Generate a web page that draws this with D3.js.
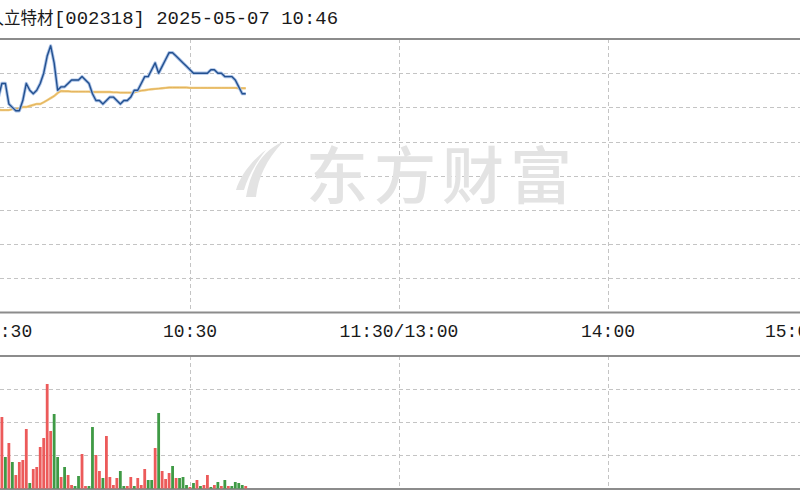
<!DOCTYPE html>
<html><head><meta charset="utf-8">
<script src="https://cdn.jsdelivr.net/npm/d3@7"></script>
<style>html,body{margin:0;padding:0;background:#fff;}svg{display:block;}</style>
</head><body>
<svg id="c" width="800" height="500"></svg>
<script>
// ---- data ----
const stockName = "久立特材";
const stockInfo = "[002318] 2025-05-07 10:46";
const watermark = "东方财富";
const tickMinutes = [0, 60, 120, 180, 240];
const tickLabels = ["9:30", "10:30", "11:30/13:00", "14:00", "15:00"];
const prevClose = 22.35;
const priceRange = [21.95, 22.75];
const volumeMax = 8000;
const prices = [22.54,22.55,22.53,22.56,22.55,22.58,22.62,22.62,22.56,22.55,22.54,22.54,22.57,22.62,22.60,22.59,
  22.60,22.62,22.65,22.70,22.73,22.68,22.60,22.61,22.61,22.62,22.63,22.63,22.63,22.64,22.63,22.62,22.59,22.57,
  22.57,22.56,22.57,22.58,22.58,22.57,22.56,22.57,22.57,22.58,22.60,22.60,22.62,22.64,22.64,22.66,22.68,22.65,
  22.67,22.69,22.71,22.71,22.70,22.69,22.68,22.67,22.66,22.65,22.65,22.65,22.65,22.65,22.66,22.66,22.65,22.65,
  22.64,22.64,22.64,22.63,22.61,22.59,22.59];
const avgPrices = [22.542,22.543,22.542,22.543,22.543,22.543,22.542,22.542,22.542,22.545,22.545,22.548,22.551,
  22.551,22.554,22.557,22.560,22.560,22.565,22.571,22.577,22.583,22.592,22.598,22.597,22.597,22.596,22.596,
  22.596,22.596,22.596,22.596,22.595,22.595,22.595,22.595,22.595,22.595,22.594,22.594,22.593,22.593,22.593,
  22.593,22.594,22.597,22.599,22.600,22.602,22.603,22.604,22.605,22.606,22.607,22.608,22.608,22.608,22.608,
  22.608,22.608,22.607,22.607,22.607,22.607,22.607,22.607,22.607,22.607,22.607,22.607,22.607,22.607,22.607,
  22.607,22.606,22.606,22.606];
const volumes = [3000,1500,1200,1800,1000,3230,4317,1902,2747,1600,815,1600,1721,3593,332,1177,1298,2506,3049,
  6310,3472,4498,1902,694,1298,815,211,150,755,2083,150,150,3713,2023,1057,634,3170,694,211,634,1057,150,150,
  694,150,634,211,1177,513,513,2445,4559,1057,574,936,1359,634,634,694,211,91,332,513,150,211,815,91,211,392,
  150,513,150,150,392,332,211,150];
const directions = ["u","u","d","u","d","u","u","d","u","d","u","u","u","u","d","u","u","u","u","u","u","d",
  "d","u","d","u","u","d","d","u","u","d","d","u","u","d","u","u","u","u","d","d","u","u","d","u","u","u","d",
  "d","u","d","u","u","u","d","u","d","d","d","u","d","u","d","u","u","d","u","d","u","d","u","d","d","d","d","u"];

// ---- layout ----
const svg = d3.select("#c");
const x = d3.scaleLinear().domain([0, 240]).range([-19, 817]);
const pTop = 39, pBot = 312.5, vTop = 356, vBot = 489;
const y = d3.scaleLinear().domain(priceRange).range([pBot, pTop]);
const yv = d3.scaleLinear().domain([0, volumeMax]).range([vBot - 0.5, vTop]);
const gridColor = "#c4c4c4";

// horizontal grid (price)
const pStep = (priceRange[1] - priceRange[0]) / 8;
const pGrid = d3.range(1, 8).map(k => priceRange[0] + k * pStep);
svg.append("g").selectAll("line").data(pGrid).join("line")
  .attr("x1", 0).attr("x2", 800).attr("y1", d => Math.round(y(d)) + 0.5).attr("y2", d => Math.round(y(d)) + 0.5)
  .attr("stroke", gridColor).attr("stroke-dasharray", "4,3");
// horizontal grid (volume)
const vGrid = [2000, 4000, 6000];
svg.append("g").selectAll("line").data(vGrid).join("line")
  .attr("x1", 0).attr("x2", 800).attr("y1", d => Math.round(yv(d)) + 0.5).attr("y2", d => Math.round(yv(d)) + 0.5)
  .attr("stroke", gridColor).attr("stroke-dasharray", "4,3");
// vertical grid
const vLines = tickMinutes.slice(1, -1);
[[pTop, pBot], [vTop, vBot]].forEach(([a, b]) => {
  svg.append("g").selectAll("line").data(vLines).join("line")
    .attr("x1", d => Math.round(x(d)) + 0.5).attr("x2", d => Math.round(x(d)) + 0.5)
    .attr("y1", a).attr("y2", b)
    .attr("stroke", gridColor).attr("stroke-dasharray", "4,3");
});

// watermark
const wm = svg.append("g").attr("fill", "#e3e3e3");
wm.append("path").attr("d", "M283,142 C262,150 250,172 246,197 L256,197 C258,178 266,160 283,142 Z");
wm.append("path").attr("d", "M266,150 C252,160 240,176 236,190 L244,190 C248,176 256,163 266,150 Z");
wm.append("text").attr("x", 306).attr("y", 199).attr("font-family", "Noto Sans CJK SC")
  .attr("font-size", 62).attr("font-weight", 500).attr("letter-spacing", 6).text(watermark);

// panel borders
[pTop, pBot, vTop, vBot].forEach(v => {
  svg.append("line").attr("x1", 0).attr("x2", 800).attr("y1", v).attr("y2", v)
    .attr("stroke", "#8c8c8c").attr("stroke-width", 2);
});

// volume bars
svg.append("g").selectAll("rect").data(volumes).join("rect")
  .attr("x", (d, i) => x(i) - 1.4).attr("width", 2.8)
  .attr("y", d => yv(d)).attr("height", d => yv(0) - yv(d))
  .attr("fill", (d, i) => directions[i] === "u" ? "#ec5a5a" : "#3f9a45");

// average line
const idx = d3.range(prices.length);
svg.append("path").datum(idx)
  .attr("d", d3.line().x(i => x(i)).y(i => y(avgPrices[i])))
  .attr("fill", "none").attr("stroke", "#f0cc80").attr("stroke-width", 2.4);
svg.append("path").datum(idx)
  .attr("d", d3.line().x(i => x(i)).y(i => y(avgPrices[i])))
  .attr("fill", "none").attr("stroke", "#e3b25c").attr("stroke-width", 1);
// price line
svg.append("path").datum(idx)
  .attr("d", d3.line().x(i => x(i)).y(i => y(prices[i])))
  .attr("fill", "none").attr("stroke", "#a8c0e6").attr("stroke-width", 3.2).attr("stroke-linejoin", "round");
svg.append("path").datum(idx)
  .attr("d", d3.line().x(i => x(i)).y(i => y(prices[i])))
  .attr("fill", "none").attr("stroke", "#23508f").attr("stroke-width", 1.4).attr("stroke-linejoin", "round");

// title
svg.append("text").attr("x", -12.5).attr("y", 24).attr("font-family", "Noto Sans CJK SC")
  .attr("font-size", 16.5).attr("fill", "#1a1a1a").text(stockName);
svg.append("text").attr("x", 54).attr("y", 24).attr("font-family", "Liberation Mono")
  .attr("font-size", 18).attr("fill", "#1a1a1a")
  .attr("textLength", 284).attr("lengthAdjust", "spacingAndGlyphs").text(stockInfo);

// time axis labels
svg.append("g").selectAll("text").data(tickMinutes).join("text")
  .attr("x", (d, i) => i === 0 ? x(d) + 8 : (i === tickMinutes.length - 1 ? x(d) + 2 : x(d)))
  .attr("y", 337)
  .attr("text-anchor", (d, i) => i === 0 ? "start" : (i === tickMinutes.length - 1 ? "end" : "middle"))
  .attr("font-family", "Liberation Mono").attr("font-size", 18).attr("fill", "#1a1a1a")
  .text((d, i) => tickLabels[i]);
</script>
</body></html>
